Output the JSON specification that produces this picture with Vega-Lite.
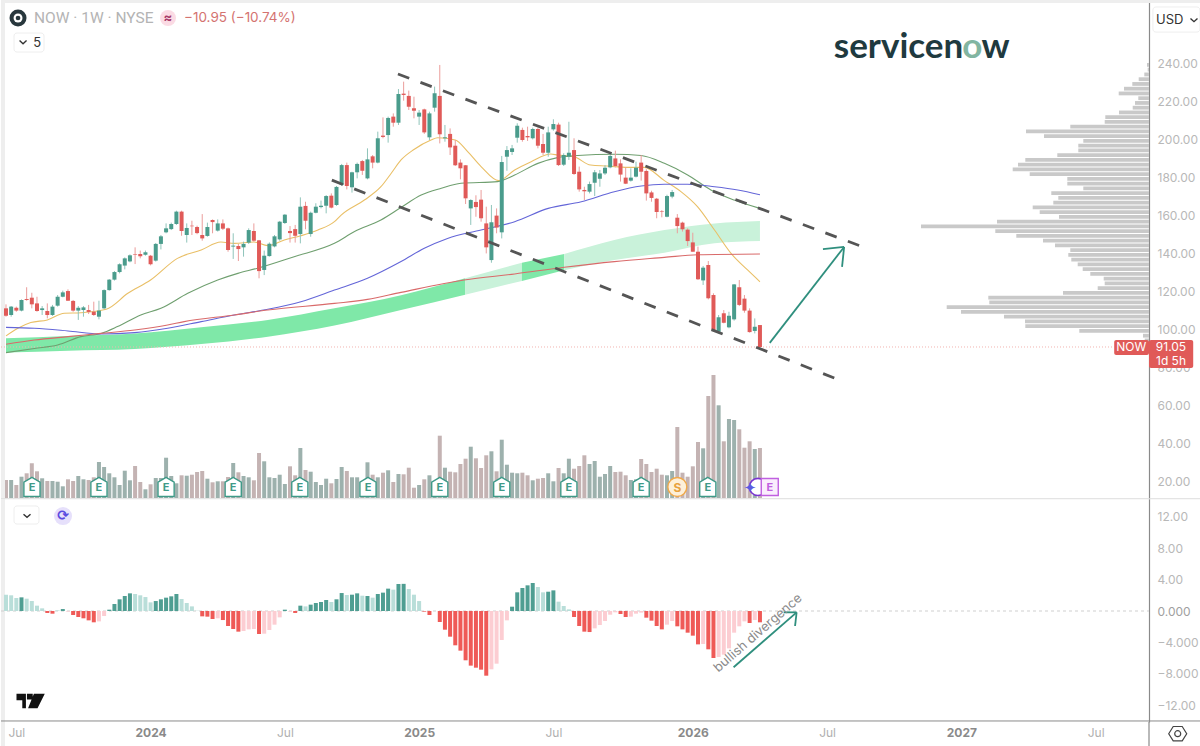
{
  "$schema": "https://vega.github.io/schema/vega-lite/v6.json",
  "padding": 0,
  "spacing": 0,
  "bounds": "flush",
  "background": "white",
  "config": {"view": {"stroke": null}, "font": "Inter"},
  "datasets": {
    "bars": [
      {"w":0,"o":111.4,"h":113.5,"l":107.0,"c":107.5,"v":18,"m":2.08,"g":0},
      {"w":1,"o":107.9,"h":112.6,"l":107.0,"c":112.3,"v":18,"m":2.0,"g":0},
      {"w":2,"o":111.7,"h":112.3,"l":109.6,"c":110.2,"v":13,"m":1.66,"g":0},
      {"w":3,"o":110.2,"h":116.1,"l":109.8,"c":115.8,"v":21.3,"m":1.74,"g":1},
      {"w":4,"o":116.3,"h":122.5,"l":115.4,"c":115.8,"v":24.7,"m":1.57,"g":0},
      {"w":5,"o":117.0,"h":119.6,"l":111.4,"c":113.5,"v":34.7,"m":1.27,"g":0},
      {"w":6,"o":114.0,"h":117.5,"l":109.6,"c":110.0,"v":26.7,"m":0.68,"g":0},
      {"w":7,"o":110.5,"h":112.6,"l":107.9,"c":111.4,"v":19.7,"m":0.34,"g":0},
      {"w":8,"o":110.0,"h":114.0,"l":106.1,"c":107.9,"v":17,"m":-0.25,"g":1},
      {"w":9,"o":107.9,"h":113.2,"l":107.4,"c":112.3,"v":17,"m":-0.34,"g":1},
      {"w":10,"o":112.8,"h":118.4,"l":112.3,"c":117.5,"v":16.3,"m":0.08,"g":0},
      {"w":11,"o":117.5,"h":120.7,"l":117.2,"c":119.8,"v":11.7,"m":0.25,"g":1},
      {"w":12,"o":120.5,"h":121.4,"l":115.3,"c":115.4,"v":18.7,"m":-0.08,"g":0},
      {"w":13,"o":115.3,"h":115.8,"l":109.6,"c":110.2,"v":17,"m":-0.51,"g":1},
      {"w":14,"o":110.2,"h":112.6,"l":105.3,"c":111.7,"v":22,"m":-0.76,"g":1},
      {"w":15,"o":110.5,"h":112.6,"l":107.0,"c":111.9,"v":18.7,"m":-0.93,"g":1},
      {"w":16,"o":110.5,"h":113.2,"l":108.4,"c":109.5,"v":18,"m":-1.19,"g":1},
      {"w":17,"o":109.6,"h":114.9,"l":107.4,"c":107.9,"v":20.7,"m":-1.44,"g":1},
      {"w":18,"o":107.0,"h":115.4,"l":105.6,"c":110.2,"v":36,"m":-1.32,"g":0},
      {"w":19,"o":111.4,"h":121.4,"l":110.9,"c":121.0,"v":31,"m":-0.64,"g":0},
      {"w":20,"o":121.0,"h":126.8,"l":120.7,"c":126.5,"v":24.7,"m":0.17,"g":1},
      {"w":21,"o":126.5,"h":131.0,"l":126.0,"c":130.5,"v":20.7,"m":0.89,"g":1},
      {"w":22,"o":130.5,"h":135.1,"l":129.8,"c":134.6,"v":13,"m":1.49,"g":1},
      {"w":23,"o":133.9,"h":138.2,"l":131.9,"c":137.7,"v":27.3,"m":1.91,"g":1},
      {"w":24,"o":136.1,"h":139.8,"l":135.6,"c":139.3,"v":17.7,"m":2.25,"g":1},
      {"w":25,"o":139.8,"h":143.5,"l":134.7,"c":139.5,"v":32,"m":2.17,"g":0},
      {"w":26,"o":140.0,"h":141.8,"l":137.7,"c":138.8,"v":16,"m":2.0,"g":0},
      {"w":27,"o":139.6,"h":141.8,"l":139.1,"c":140.9,"v":8.7,"m":1.78,"g":0},
      {"w":28,"o":139.1,"h":139.5,"l":134.0,"c":134.6,"v":13.7,"m":1.10,"g":0},
      {"w":29,"o":136.5,"h":145.8,"l":136.0,"c":145.3,"v":20,"m":1.27,"g":1},
      {"w":30,"o":145.3,"h":150.0,"l":142.4,"c":149.3,"v":20,"m":1.49,"g":1},
      {"w":31,"o":151.4,"h":156.1,"l":150.9,"c":153.5,"v":40.3,"m":1.70,"g":1},
      {"w":32,"o":153.1,"h":156.5,"l":152.6,"c":155.8,"v":22,"m":1.87,"g":1},
      {"w":33,"o":155.8,"h":162.8,"l":155.3,"c":162.3,"v":14.7,"m":2.17,"g":1},
      {"w":34,"o":162.3,"h":162.8,"l":149.6,"c":152.1,"v":22.7,"m":1.53,"g":0},
      {"w":35,"o":150.0,"h":156.1,"l":146.0,"c":153.7,"v":22.3,"m":1.02,"g":0},
      {"w":36,"o":154.9,"h":157.5,"l":150.0,"c":154.6,"v":23.3,"m":0.59,"g":0},
      {"w":37,"o":154.2,"h":154.9,"l":150.4,"c":151.0,"v":26,"m":0.04,"g":0},
      {"w":38,"o":150.0,"h":161.0,"l":147.0,"c":148.2,"v":27,"m":-0.68,"g":1},
      {"w":39,"o":149.5,"h":156.5,"l":149.1,"c":154.2,"v":19.3,"m":-0.72,"g":1},
      {"w":40,"o":157.9,"h":158.2,"l":150.9,"c":156.8,"v":15.7,"m":-1.02,"g":1},
      {"w":41,"o":152.3,"h":158.2,"l":151.8,"c":156.1,"v":16.7,"m":-0.93,"g":0},
      {"w":42,"o":156.1,"h":158.2,"l":152.6,"c":153.3,"v":16.7,"m":-1.15,"g":1},
      {"w":43,"o":153.5,"h":153.9,"l":141.2,"c":142.1,"v":21,"m":-1.91,"g":1},
      {"w":44,"o":143.9,"h":150.9,"l":137.4,"c":144.4,"v":35,"m":-2.29,"g":1},
      {"w":45,"o":144.2,"h":145.3,"l":136.3,"c":142.6,"v":25.7,"m":-2.63,"g":1},
      {"w":46,"o":143.5,"h":146.5,"l":138.6,"c":145.3,"v":22,"m":-2.55,"g":0},
      {"w":47,"o":146.0,"h":153.5,"l":145.3,"c":152.6,"v":20.7,"m":-2.34,"g":0},
      {"w":48,"o":152.1,"h":156.1,"l":146.5,"c":147.0,"v":17.7,"m":-2.29,"g":0},
      {"w":49,"o":147.2,"h":147.4,"l":127.2,"c":131.0,"v":45,"m":-2.93,"g":1},
      {"w":50,"o":131.6,"h":141.8,"l":128.9,"c":139.1,"v":36.7,"m":-2.89,"g":0},
      {"w":51,"o":138.9,"h":146.1,"l":138.6,"c":145.4,"v":20.7,"m":-2.42,"g":0},
      {"w":52,"o":144.0,"h":150.0,"l":143.5,"c":149.3,"v":20,"m":-1.74,"g":0},
      {"w":53,"o":147.7,"h":157.4,"l":147.0,"c":157.0,"v":23.3,"m":-0.81,"g":0},
      {"w":54,"o":156.3,"h":161.0,"l":155.8,"c":160.7,"v":14,"m":0.17,"g":1},
      {"w":55,"o":152.1,"h":154.7,"l":146.0,"c":151.0,"v":31.7,"m":-0.08,"g":0},
      {"w":56,"o":153.1,"h":155.3,"l":146.0,"c":149.6,"v":22.7,"m":-0.25,"g":1},
      {"w":57,"o":150.5,"h":169.8,"l":145.6,"c":164.9,"v":50,"m":0.68,"g":1},
      {"w":58,"o":165.3,"h":167.5,"l":153.0,"c":157.5,"v":28,"m":0.59,"g":0},
      {"w":59,"o":150.5,"h":162.3,"l":149.1,"c":161.7,"v":26.3,"m":0.81,"g":1},
      {"w":60,"o":161.7,"h":166.7,"l":161.4,"c":164.9,"v":16,"m":1.02,"g":1},
      {"w":61,"o":164.7,"h":168.1,"l":164.0,"c":165.4,"v":13,"m":1.15,"g":1},
      {"w":62,"o":165.4,"h":171.0,"l":161.4,"c":170.5,"v":19.3,"m":1.40,"g":1},
      {"w":63,"o":170.7,"h":171.9,"l":164.0,"c":164.4,"v":14.7,"m":1.15,"g":0},
      {"w":64,"o":165.8,"h":175.8,"l":165.3,"c":175.3,"v":19,"m":1.49,"g":1},
      {"w":65,"o":176.3,"h":187.4,"l":175.8,"c":186.8,"v":31,"m":2.29,"g":1},
      {"w":66,"o":186.8,"h":188.1,"l":174.0,"c":175.8,"v":27,"m":2.04,"g":0},
      {"w":67,"o":175.1,"h":183.3,"l":172.3,"c":183.0,"v":20.7,"m":2.08,"g":1},
      {"w":68,"o":183.0,"h":188.1,"l":179.8,"c":187.4,"v":20.7,"m":2.25,"g":1},
      {"w":69,"o":188.9,"h":189.5,"l":181.6,"c":183.8,"v":14.7,"m":1.95,"g":0},
      {"w":70,"o":179.8,"h":195.6,"l":179.3,"c":189.8,"v":35.7,"m":1.91,"g":1},
      {"w":71,"o":191.4,"h":192.1,"l":185.1,"c":188.1,"v":23.3,"m":1.70,"g":0},
      {"w":72,"o":188.1,"h":204.4,"l":187.7,"c":200.9,"v":20.7,"m":2.17,"g":1},
      {"w":73,"o":202.3,"h":211.9,"l":200.9,"c":201.6,"v":25.3,"m":2.34,"g":1},
      {"w":74,"o":202.6,"h":212.3,"l":198.6,"c":211.6,"v":27.7,"m":2.85,"g":1},
      {"w":75,"o":212.3,"h":214.0,"l":207.0,"c":209.1,"v":16,"m":2.72,"g":0},
      {"w":76,"o":209.1,"h":226.8,"l":207.9,"c":224.2,"v":24,"m":3.44,"g":1},
      {"w":77,"o":224.4,"h":230.7,"l":220.7,"c":223.7,"v":23.7,"m":3.46,"g":1},
      {"w":78,"o":223.2,"h":226.0,"l":215.8,"c":217.5,"v":30.3,"m":2.80,"g":0},
      {"w":79,"o":216.7,"h":222.8,"l":211.4,"c":215.4,"v":10.3,"m":2.08,"g":0},
      {"w":80,"o":212.3,"h":215.8,"l":207.9,"c":214.4,"v":13,"m":1.27,"g":0},
      {"w":81,"o":216.1,"h":216.5,"l":203.2,"c":204.0,"v":18.7,"m":-0.08,"g":1},
      {"w":82,"o":201.4,"h":214.9,"l":200.0,"c":214.0,"v":22.7,"m":-0.51,"g":1},
      {"w":83,"o":217.0,"h":228.1,"l":214.9,"c":224.6,"v":14.7,"m":0,"g":0},
      {"w":84,"o":223.2,"h":239.5,"l":198.2,"c":203.0,"v":62.3,"m":-1.40,"g":1},
      {"w":85,"o":200.9,"h":207.9,"l":199.1,"c":201.4,"v":30.3,"m":-2.38,"g":1},
      {"w":86,"o":203.2,"h":206.1,"l":192.1,"c":196.1,"v":26.3,"m":-3.27,"g":1},
      {"w":87,"o":197.0,"h":200.0,"l":186.3,"c":186.7,"v":25.7,"m":-4.37,"g":1},
      {"w":88,"o":188.1,"h":189.8,"l":179.3,"c":185.1,"v":34,"m":-5.05,"g":1},
      {"w":89,"o":186.7,"h":186.8,"l":166.3,"c":169.3,"v":39.3,"m":-6.28,"g":1},
      {"w":90,"o":164.0,"h":168.8,"l":155.3,"c":168.4,"v":51.3,"m":-6.96,"g":1},
      {"w":91,"o":167.4,"h":170.9,"l":159.6,"c":164.7,"v":39.7,"m":-7.22,"g":1},
      {"w":92,"o":168.6,"h":173.7,"l":157.0,"c":158.8,"v":30,"m":-7.47,"g":1},
      {"w":93,"o":156.1,"h":164.9,"l":140.3,"c":143.5,"v":42.7,"m":-8.24,"g":1},
      {"w":94,"o":136.8,"h":165.8,"l":135.4,"c":156.7,"v":46.7,"m":-7.43,"g":0},
      {"w":95,"o":160.2,"h":164.0,"l":150.9,"c":153.9,"v":26.7,"m":-6.71,"g":0},
      {"w":96,"o":151.4,"h":191.6,"l":148.2,"c":188.4,"v":58.3,"m":-3.69,"g":0},
      {"w":97,"o":191.2,"h":196.8,"l":183.8,"c":194.7,"v":33.3,"m":-1.19,"g":0},
      {"w":98,"o":193.7,"h":197.4,"l":192.1,"c":195.6,"v":25.3,"m":0.55,"g":1},
      {"w":99,"o":201.2,"h":208.8,"l":198.6,"c":207.5,"v":24.7,"m":2.38,"g":1},
      {"w":100,"o":205.3,"h":206.5,"l":199.1,"c":200.0,"v":25.3,"m":2.93,"g":1},
      {"w":101,"o":202.1,"h":207.0,"l":199.5,"c":201.4,"v":22.7,"m":3.27,"g":1},
      {"w":102,"o":200.9,"h":206.5,"l":200.3,"c":205.8,"v":17.7,"m":3.57,"g":1},
      {"w":103,"o":205.8,"h":206.5,"l":195.6,"c":197.0,"v":19.3,"m":3.06,"g":0},
      {"w":104,"o":197.9,"h":203.2,"l":192.1,"c":193.3,"v":20,"m":2.38,"g":0},
      {"w":105,"o":193.3,"h":207.0,"l":191.2,"c":204.0,"v":24.7,"m":2.46,"g":1},
      {"w":106,"o":205.6,"h":210.9,"l":204.9,"c":208.4,"v":16.7,"m":2.63,"g":1},
      {"w":107,"o":208.1,"h":209.1,"l":186.3,"c":186.8,"v":30,"m":1.19,"g":0},
      {"w":108,"o":187.0,"h":193.0,"l":186.3,"c":192.1,"v":24.7,"m":0.64,"g":0},
      {"w":109,"o":191.2,"h":209.6,"l":189.5,"c":193.3,"v":39.3,"m":0.21,"g":0},
      {"w":110,"o":194.7,"h":200.9,"l":181.6,"c":182.1,"v":29.3,"m":-0.76,"g":1},
      {"w":111,"o":183.3,"h":186.0,"l":172.8,"c":174.0,"v":32,"m":-1.91,"g":1},
      {"w":112,"o":173.7,"h":175.4,"l":168.4,"c":173.0,"v":42.7,"m":-2.63,"g":1},
      {"w":113,"o":172.8,"h":178.1,"l":171.9,"c":176.8,"v":34,"m":-2.68,"g":1},
      {"w":114,"o":177.5,"h":184.2,"l":170.5,"c":183.0,"v":37,"m":-2.21,"g":0},
      {"w":115,"o":179.6,"h":184.2,"l":175.4,"c":182.4,"v":21.3,"m":-1.78,"g":0},
      {"w":116,"o":182.4,"h":186.8,"l":181.6,"c":185.4,"v":24,"m":-1.27,"g":0},
      {"w":117,"o":185.6,"h":193.0,"l":185.1,"c":191.6,"v":32,"m":-0.47,"g":0},
      {"w":118,"o":190.3,"h":194.4,"l":185.6,"c":186.3,"v":26,"m":-0.17,"g":0},
      {"w":119,"o":187.7,"h":189.8,"l":178.1,"c":181.8,"v":26.3,"m":-0.38,"g":1},
      {"w":120,"o":180.2,"h":185.6,"l":176.8,"c":177.0,"v":22.7,"m":-0.76,"g":1},
      {"w":121,"o":178.6,"h":185.1,"l":178.1,"c":180.2,"v":18,"m":-0.72,"g":0},
      {"w":122,"o":180.7,"h":188.6,"l":180.3,"c":185.4,"v":18.7,"m":-0.34,"g":0},
      {"w":123,"o":188.1,"h":192.1,"l":178.6,"c":183.3,"v":39,"m":-0.21,"g":0},
      {"w":124,"o":183.7,"h":184.6,"l":168.1,"c":171.9,"v":34,"m":-0.85,"g":1},
      {"w":125,"o":172.4,"h":173.3,"l":167.5,"c":169.5,"v":26,"m":-1.23,"g":1},
      {"w":126,"o":169.1,"h":169.5,"l":158.8,"c":162.1,"v":29.3,"m":-1.91,"g":1},
      {"w":127,"o":162.4,"h":163.1,"l":159.3,"c":162.1,"v":23.3,"m":-2.34,"g":1},
      {"w":128,"o":159.6,"h":171.2,"l":159.3,"c":170.5,"v":22.7,"m":-1.74,"g":0},
      {"w":129,"o":170.2,"h":173.7,"l":169.3,"c":172.6,"v":27,"m":-1.27,"g":0},
      {"w":130,"o":159.1,"h":161.0,"l":150.9,"c":154.7,"v":71,"m":-1.95,"g":1},
      {"w":131,"o":156.5,"h":157.0,"l":151.8,"c":153.0,"v":25.3,"m":-2.34,"g":1},
      {"w":132,"o":152.8,"h":153.5,"l":144.2,"c":146.8,"v":21.3,"m":-2.76,"g":1},
      {"w":133,"o":146.1,"h":151.2,"l":141.2,"c":141.2,"v":31.7,"m":-3.14,"g":1},
      {"w":134,"o":141.2,"h":143.9,"l":126.3,"c":126.7,"v":56,"m":-4.25,"g":1},
      {"w":135,"o":126.1,"h":133.7,"l":123.7,"c":132.8,"v":49.7,"m":-4.20,"g":0},
      {"w":136,"o":134.2,"h":136.3,"l":116.1,"c":116.7,"v":102,"m":-4.88,"g":1},
      {"w":137,"o":118.4,"h":119.3,"l":99.6,"c":100.0,"v":123,"m":-5.99,"g":1},
      {"w":138,"o":99.1,"h":107.9,"l":98.2,"c":106.7,"v":92.7,"m":-5.86,"g":0},
      {"w":139,"o":108.8,"h":110.5,"l":103.5,"c":103.8,"v":56.7,"m":-5.56,"g":0},
      {"w":140,"o":101.4,"h":109.6,"l":100.9,"c":107.5,"v":79,"m":-4.76,"g":0},
      {"w":141,"o":105.6,"h":124.2,"l":104.9,"c":124.0,"v":78,"m":-2.76,"g":0},
      {"w":142,"o":122.5,"h":126.3,"l":112.6,"c":113.2,"v":68.7,"m":-1.95,"g":0},
      {"w":143,"o":116.5,"h":118.4,"l":109.1,"c":110.2,"v":50.3,"m":-1.32,"g":0},
      {"w":144,"o":110.2,"h":111.4,"l":98.6,"c":98.9,"v":56.7,"m":-1.53,"g":1},
      {"w":145,"o":99.5,"h":106.1,"l":98.2,"c":101.7,"v":49,"m":-1.15,"g":0},
      {"w":146,"o":102.6,"h":102.6,"l":90.2,"c":91.05,"v":50,"m":-1.44,"g":1}
    ],
    "profile": [
      {"p":239.5,"vp":2},{"p":237,"vp":1.3},{"p":234.5,"vp":4.7},{"p":232,"vp":10.3},{"p":229.5,"vp":16.7},
      {"p":227,"vp":25},{"p":224.5,"vp":30.3},{"p":222,"vp":10.7},{"p":219.5,"vp":14},{"p":217,"vp":16.3},
      {"p":214.5,"vp":30},{"p":212,"vp":43.7},{"p":209.5,"vp":44.3},{"p":207,"vp":78.7},{"p":204.5,"vp":123},
      {"p":202,"vp":105},{"p":199.5,"vp":65.7},{"p":197,"vp":70.7},{"p":194.5,"vp":70.7},{"p":192,"vp":91.7},
      {"p":189.5,"vp":123.7},{"p":187,"vp":131},{"p":184.5,"vp":136.3},{"p":182,"vp":119.3},{"p":179.5,"vp":81.7},
      {"p":177,"vp":81.7},{"p":174.5,"vp":65.7},{"p":172,"vp":97.7},{"p":169.5,"vp":90.7},{"p":167,"vp":95.7},
      {"p":164.5,"vp":116.3},{"p":162,"vp":109.3},{"p":159.5,"vp":90},{"p":157,"vp":152},{"p":154.5,"vp":228},
      {"p":152,"vp":153.7},{"p":149.5,"vp":132.7},{"p":147,"vp":106},{"p":144.5,"vp":94},{"p":142,"vp":78.7},
      {"p":139.5,"vp":80.7},{"p":137,"vp":77.7},{"p":134.5,"vp":71.3},{"p":132,"vp":66.3},{"p":129.5,"vp":58.7},
      {"p":127,"vp":45.3},{"p":124.5,"vp":44.3},{"p":122,"vp":51.3},{"p":119.5,"vp":86},{"p":117,"vp":160.7},
      {"p":114.5,"vp":159.7},{"p":112,"vp":202.3},{"p":109.5,"vp":188},{"p":107,"vp":145},{"p":104.5,"vp":124},
      {"p":102,"vp":123.7},{"p":99.5,"vp":69.7},{"p":97,"vp":6},{"p":94.5,"vp":4.3},{"p":92,"vp":4.3}
    ],
    "ribbon": [
      {"seg":"a","w":0,"hi":95.6,"lo":88.1},{"seg":"a","w":12,"hi":96.8,"lo":89.1},{"seg":"a","w":24.9,"hi":98.2,"lo":90},
      {"seg":"a","w":31.3,"hi":99.6,"lo":91.2},{"seg":"a","w":37.8,"hi":101.4,"lo":92.6},{"seg":"a","w":50.7,"hi":105.3,"lo":96.5},
      {"seg":"a","w":63.6,"hi":111.4,"lo":102.3},{"seg":"a","w":76.5,"hi":118.3,"lo":110.5},{"seg":"a","w":88.9,"hi":127.2,"lo":118.6},
      {"seg":"b","w":88.9,"hi":127.2,"lo":118.6},{"seg":"b","w":99.9,"hi":135.4,"lo":125.8},
      {"seg":"c","w":99.9,"hi":135.4,"lo":125.8},{"seg":"c","w":108.1,"hi":140,"lo":131.4},
      {"seg":"d","w":108.1,"hi":140,"lo":131.4},{"seg":"d","w":117.8,"hi":147.4,"lo":136.8},{"seg":"d","w":127.5,"hi":152.6,"lo":140.7},
      {"seg":"d","w":137.2,"hi":156.1,"lo":145.6},{"seg":"d","w":146,"hi":157.4,"lo":146.8}
    ],
    "averages": [
      {"ma":"ma20","w":0,"p":96.9},{"ma":"ma20","w":2.3,"p":100.9},{"ma":"ma20","w":4.8,"p":103.9},{"ma":"ma20","w":8,"p":105.3},
      {"ma":"ma20","w":11.3,"p":108.8},{"ma":"ma20","w":14.5,"p":109.1},{"ma":"ma20","w":19.4,"p":110.9},{"ma":"ma20","w":23.6,"p":119.3},
      {"ma":"ma20","w":28,"p":126.3},{"ma":"ma20","w":33.2,"p":137.7},{"ma":"ma20","w":37.8,"p":142.1},{"ma":"ma20","w":41.6,"p":146.3},
      {"ma":"ma20","w":44.2,"p":145.6},{"ma":"ma20","w":48,"p":146.3},{"ma":"ma20","w":50.7,"p":144.4},{"ma":"ma20","w":53.9,"p":147.4},
      {"ma":"ma20","w":57.1,"p":149.6},{"ma":"ma20","w":60.4,"p":152.6},{"ma":"ma20","w":63.6,"p":157},{"ma":"ma20","w":64.9,"p":160.5},
      {"ma":"ma20","w":69.4,"p":168.4},{"ma":"ma20","w":72.6,"p":175.4},{"ma":"ma20","w":74.6,"p":182.5},{"ma":"ma20","w":76.5,"p":189.5},
      {"ma":"ma20","w":79,"p":195},{"ma":"ma20","w":82.3,"p":200},{"ma":"ma20","w":83.6,"p":201.2},{"ma":"ma20","w":87,"p":200},
      {"ma":"ma20","w":89.4,"p":193.9},{"ma":"ma20","w":92,"p":186},{"ma":"ma20","w":95.4,"p":178.6},{"ma":"ma20","w":98.5,"p":184.2},
      {"ma":"ma20","w":101.7,"p":188.6},{"ma":"ma20","w":105.5,"p":192.6},{"ma":"ma20","w":106.8,"p":192.1},{"ma":"ma20","w":110,"p":191.2},
      {"ma":"ma20","w":113.2,"p":186.8},{"ma":"ma20","w":116.4,"p":186.3},{"ma":"ma20","w":120.4,"p":185.6},{"ma":"ma20","w":123.6,"p":185.6},
      {"ma":"ma20","w":127.5,"p":178.6},{"ma":"ma20","w":130.7,"p":172.8},{"ma":"ma20","w":133.9,"p":164.9},{"ma":"ma20","w":137.2,"p":152.6},
      {"ma":"ma20","w":140.4,"p":140.3},{"ma":"ma20","w":143.6,"p":131.6},{"ma":"ma20","w":146,"p":125.4},
      {"ma":"ma50","w":0,"p":88.1},{"ma":"ma50","w":5.5,"p":90.3},{"ma":"ma50","w":10,"p":92.1},{"ma":"ma50","w":14.5,"p":96.5},
      {"ma":"ma50","w":18.4,"p":98.2},{"ma":"ma50","w":21.6,"p":101.8},{"ma":"ma50","w":26.1,"p":107.9},{"ma":"ma50","w":30,"p":111.4},
      {"ma":"ma50","w":35.2,"p":119.3},{"ma":"ma50","w":41,"p":126.3},{"ma":"ma50","w":44.9,"p":129.8},{"ma":"ma50","w":48.7,"p":132.5},
      {"ma":"ma50","w":55.8,"p":138.6},{"ma":"ma50","w":63.6,"p":145.6},{"ma":"ma50","w":67.5,"p":151.8},{"ma":"ma50","w":72.6,"p":157.9},
      {"ma":"ma50","w":76.5,"p":164.5},{"ma":"ma50","w":80.4,"p":171},{"ma":"ma50","w":84.3,"p":174.6},{"ma":"ma50","w":88.1,"p":177.2},
      {"ma":"ma50","w":95.2,"p":178.1},{"ma":"ma50","w":98.5,"p":181.6},{"ma":"ma50","w":103,"p":187.7},{"ma":"ma50","w":106.8,"p":190.7},
      {"ma":"ma50","w":110.7,"p":191.8},{"ma":"ma50","w":117.8,"p":192.5},{"ma":"ma50","w":123,"p":191.8},{"ma":"ma50","w":127.5,"p":187.7},
      {"ma":"ma50","w":132,"p":181.6},{"ma":"ma50","w":136.5,"p":173.7},{"ma":"ma50","w":141,"p":168.4},{"ma":"ma50","w":146,"p":164},
      {"ma":"ma100","w":0,"p":101.4},{"ma":"ma100","w":5.5,"p":100.9},{"ma":"ma100","w":12,"p":99.5},{"ma":"ma100","w":18.4,"p":97.9},
      {"ma":"ma100","w":24.9,"p":98.6},{"ma":"ma100","w":31.3,"p":100.9},{"ma":"ma100","w":37.8,"p":104.4},{"ma":"ma100","w":44.2,"p":107.9},
      {"ma":"ma100","w":50.7,"p":110.9},{"ma":"ma100","w":57.1,"p":114.9},{"ma":"ma100","w":63.6,"p":121},{"ma":"ma100","w":70,"p":127.2},
      {"ma":"ma100","w":76.5,"p":136},{"ma":"ma100","w":81,"p":143},{"ma":"ma100","w":85.5,"p":148.2},{"ma":"ma100","w":92,"p":152.6},
      {"ma":"ma100","w":98.5,"p":157},{"ma":"ma100","w":105,"p":164},{"ma":"ma100","w":111.4,"p":167.5},{"ma":"ma100","w":117.8,"p":172.8},
      {"ma":"ma100","w":123,"p":175.8},{"ma":"ma100","w":127.5,"p":176.7},{"ma":"ma100","w":132,"p":176.7},{"ma":"ma100","w":137.2,"p":175.4},
      {"ma":"ma100","w":141.7,"p":173.7},{"ma":"ma100","w":146,"p":171.2},
      {"ma":"ma200","w":0,"p":92.5},{"ma":"ma200","w":5.5,"p":94.7},{"ma":"ma200","w":12,"p":96.5},{"ma":"ma200","w":18.4,"p":98.2},
      {"ma":"ma200","w":24.9,"p":100},{"ma":"ma200","w":31.3,"p":102.6},{"ma":"ma200","w":34.5,"p":104.4},{"ma":"ma200","w":44.2,"p":107.9},
      {"ma":"ma200","w":50.7,"p":110.5},{"ma":"ma200","w":63.6,"p":114},{"ma":"ma200","w":70,"p":116.1},{"ma":"ma200","w":76.5,"p":119.8},
      {"ma":"ma200","w":88.7,"p":126.3},{"ma":"ma200","w":98.5,"p":129.5},{"ma":"ma200","w":108.1,"p":133},{"ma":"ma200","w":117.8,"p":136},
      {"ma":"ma200","w":127.5,"p":138.2},{"ma":"ma200","w":133.9,"p":139.6},{"ma":"ma200","w":146,"p":140}
    ]
  },
  "vconcat": [
    {
      "width": 1148,
      "height": 499,
      "resolve": {"scale": {"x": "independent", "y": "independent"}},
      "layer": [
        {
          "data": {"name": "bars"},
          "mark": {"type": "bar", "width": 4},
          "encoding": {
            "x": {"field": "w", "type": "quantitative", "scale": {"domain": [-0.968, 221.34], "nice": false, "padding": 0}, "axis": null},
            "y": {"field": "v", "type": "quantitative", "scale": {"domain": [-1, 498], "nice": false}, "axis": null},
            "color": {"condition": {"test": "datum.c>=datum.o", "value": "#9db1ad"}, "value": "#c4b3b3"}
          }
        },
        {
          "data": {"name": "profile"},
          "mark": {"type": "rule", "strokeWidth": 3.8, "color": "#c9c9c9"},
          "encoding": {
            "x": {"field": "vp", "type": "quantitative", "scale": {"domain": [1148, 0], "nice": false}, "axis": null},
            "x2": {"datum": 0},
            "y": {"field": "p", "type": "quantitative", "scale": {"domain": [11.05, 273.68], "nice": false}, "axis": null}
          }
        },
        {
          "resolve": {"scale": {"color": "independent"}},
          "encoding": {
            "x": {"field": "w", "type": "quantitative", "scale": {"domain": [-0.968, 221.34], "nice": false, "padding": 0}, "axis": null},
            "y": {
              "field": "p", "type": "quantitative", "title": null,
              "scale": {"domain": [11.05, 273.68], "nice": false, "padding": 0},
              "axis": {
                "orient": "right", "values": [20,40,60,80,100,120,140,160,180,200,220,240], "format": ".2f",
                "grid": false, "ticks": false, "domainColor": "#8a8a8a", "domainWidth": 1.2,
                "labelColor": "#b8b8b8", "labelFontSize": 12, "labelPadding": 8, "minExtent": 52, "maxExtent": 52
              }
            }
          },
          "layer": [
            {
              "data": {"values": [
                {"w":-0.968,"w2":-0.19,"p":11.05,"p2":273.68},
                {"w":-0.968,"w2":231.4,"p":272.1,"p2":273.68}
              ]},
              "mark": {"type": "rect", "color": "#eeeeee"},
              "encoding": {"x2": {"field": "w2"}, "y2": {"field": "p2"}}
            },
            {
              "data": {"values": [{"w":-0.968,"w2":231.4,"p":11.2}]},
              "mark": {"type": "rule", "color": "#dedede", "strokeWidth": 1},
              "encoding": {"x2": {"field": "w2"}}
            },
            {
              "data": {"name": "ribbon"},
              "mark": {"type": "area", "interpolate": "monotone"},
              "encoding": {
                "y": {"field": "hi", "type": "quantitative", "title": null},
                "y2": {"field": "lo"},
                "color": {"field": "seg", "type": "nominal", "legend": null, "scale": {"domain": ["a","b","c","d"], "range": ["#7fe8a8","#c9f2da","#7fe8a8","#c9f2da"]}}
              }
            },
            {
              "data": {"values": [{"w":-0.968,"w2":214.6,"p":91.05}]},
              "mark": {"type": "rule", "color": "#f2b3b0", "strokeWidth": 1, "strokeDash": [1,2]},
              "encoding": {"x2": {"field": "w2"}}
            },
            {
              "data": {"name": "averages"},
              "mark": {"type": "line", "interpolate": "monotone", "strokeWidth": 1.1},
              "encoding": {
                "color": {"field": "ma", "type": "nominal", "legend": null, "scale": {"domain": ["ma20","ma50","ma100","ma200"], "range": ["#e9bf66","#6f9f6f","#6466d8","#d96a6a"]}}
              }
            },
            {
              "data": {"name": "bars"},
              "mark": {"type": "rule", "strokeWidth": 1},
              "encoding": {
                "y": {"field": "l", "type": "quantitative", "title": null},
                "y2": {"field": "h"},
                "color": {"condition": {"test": "datum.c>=datum.o", "value": "#8fc4ba"}, "value": "#eb9d9b"}
              }
            },
            {
              "data": {"name": "bars"},
              "mark": {"type": "rule", "strokeWidth": 4},
              "encoding": {
                "y": {"field": "o", "type": "quantitative", "title": null},
                "y2": {"field": "c"},
                "color": {"condition": {"test": "datum.c>=datum.o", "value": "#4a9c8c"}, "value": "#e05a58"}
              }
            },
            {
              "data": {"values": [
                {"line":"upper","w":75.9,"p":234.7},{"line":"upper","w":166,"p":143.7},
                {"line":"lower","w":63.1,"p":178.9},{"line":"lower","w":160.9,"p":74.2}
              ]},
              "mark": {"type": "line", "color": "#555555", "strokeWidth": 2.8, "strokeDash": [12,12]},
              "encoding": {"detail": {"field": "line"}}
            },
            {
              "data": {"values": [
                {"part":"shaft","w":147.9,"p":93.2},{"part":"shaft","w":162.3,"p":143.7},
                {"part":"barb1","w":158.2,"p":142.6},{"part":"barb1","w":162.3,"p":143.7},
                {"part":"barb2","w":161.9,"p":133.2},{"part":"barb2","w":162.3,"p":143.7}
              ]},
              "mark": {"type": "line", "color": "#2f8f7e", "strokeWidth": 1.8},
              "encoding": {"detail": {"field": "part"}}
            },
            {
              "data": {"values": [{"w":145.6,"p":17.4}]},
              "mark": {"type": "point", "shape": "circle", "filled": true, "fill": "#ffffff", "stroke": "#7a35d0", "strokeWidth": 1.6, "size": 290, "opacity": 1}
            },
            {
              "data": {"values": [{"w":144.1,"p":16.6,"t":"✦"}]},
              "mark": {"type": "text", "font": "DejaVu Sans", "fontSize": 15, "color": "#5b5be0", "baseline": "middle"},
              "encoding": {"text": {"field": "t"}}
            },
            {
              "data": {"values": [{"w":147.9,"p":17.4}]},
              "mark": {"type": "point", "shape": "square", "filled": true, "fill": "#faeefd", "stroke": "#c060e0", "strokeWidth": 1.4, "size": 289, "opacity": 1}
            },
            {
              "data": {"values": [
                {"w":5.03,"p":17.4},{"w":18,"p":17.4},{"w":31,"p":17.4},{"w":44,"p":17.4},{"w":56.9,"p":17.4},{"w":70.1,"p":17.4},
                {"w":84,"p":17.4},{"w":96,"p":17.4},{"w":109,"p":17.4},{"w":123,"p":17.4},{"w":135.9,"p":17.4}
              ]},
              "mark": {"type": "point", "shape": "M0,-1 L0.85,-0.5 L0.85,1 L-0.85,1 L-0.85,-0.5 Z", "filled": true, "fill": "#ffffff", "stroke": "#3f9a88", "strokeWidth": 1.4, "size": 361, "opacity": 1}
            },
            {
              "data": {"values": [
                {"w":5.03,"p":17,"t":"E"},{"w":18,"p":17,"t":"E"},{"w":31,"p":17,"t":"E"},{"w":44,"p":17,"t":"E"},{"w":56.9,"p":17,"t":"E"},{"w":70.1,"p":17,"t":"E"},
                {"w":84,"p":17,"t":"E"},{"w":96,"p":17,"t":"E"},{"w":109,"p":17,"t":"E"},{"w":123,"p":17,"t":"E"},{"w":135.9,"p":17,"t":"E"}
              ]},
              "mark": {"type": "text", "fontSize": 11, "fontWeight": "bold", "color": "#3f9a88", "baseline": "middle"},
              "encoding": {"text": {"field": "t"}}
            },
            {
              "data": {"values": [{"w":130,"p":17.4}]},
              "mark": {"type": "point", "shape": "circle", "filled": true, "fill": "#fdf0da", "stroke": "#efa84a", "strokeWidth": 1.4, "size": 361, "opacity": 1}
            },
            {
              "data": {"values": [{"w":130,"p":17,"t":"S"}]},
              "mark": {"type": "text", "fontSize": 12, "fontWeight": "bold", "color": "#e8a23f", "baseline": "middle"},
              "encoding": {"text": {"field": "t"}}
            },
            {
              "data": {"values": [{"w":147.9,"p":17,"t":"E"}]},
              "mark": {"type": "text", "fontSize": 11, "fontWeight": "bold", "color": "#c060e0", "baseline": "middle"},
              "encoding": {"text": {"field": "t"}}
            },
            {
              "data": {"values": [
                {"w":214.6,"w2":221.34,"p":86.8,"p2":94.7},
                {"w":221.34,"w2":229.9,"p":80,"p2":94.7}
              ]},
              "mark": {"type": "rect", "color": "#e05a58", "cornerRadius": 2},
              "encoding": {"x2": {"field": "w2"}, "y2": {"field": "p2"}}
            },
            {
              "data": {"values": [
                {"w":217.9,"p":91,"t":"NOW"},
                {"w":225.6,"p":91,"t":"91.05"},
                {"w":225.6,"p":83.7,"t":"1d 5h"}
              ]},
              "mark": {"type": "text", "fontSize": 12, "color": "#ffffff", "baseline": "middle"},
              "encoding": {"text": {"field": "t"}}
            },
            {
              "data": {"values": [
                {"w":222.1,"w2":231.2,"p":256.8,"p2":270},
                {"w":1.55,"w2":7.36,"p":246.3,"p2":256.3}
              ]},
              "mark": {"type": "rect", "fill": "#ffffff", "stroke": "#eeeeee", "cornerRadius": 3},
              "encoding": {"x2": {"field": "w2"}, "y2": {"field": "p2"}}
            },
            {
              "data": {"values": [{"w":230.05,"p":263.2},{"w":3.3,"p":251.6}]},
              "mark": {"type": "point", "shape": "M-1,-0.4 L0,0.5 L1,-0.4", "filled": false, "stroke": "#333333", "strokeWidth": 1.4, "size": 49, "opacity": 1}
            },
            {
              "data": {"values": [{"w":222.7,"p":263.2,"t":"USD"},{"w":5.3,"p":251.3,"t":"5"}]},
              "mark": {"type": "text", "fontSize": 13, "color": "#333333", "align": "left", "baseline": "middle"},
              "encoding": {"text": {"field": "t"}}
            },
            {
              "data": {"values": [{"w":2.33,"p":264.2}]},
              "mark": {"type": "point", "shape": "circle", "filled": true, "fill": "#28373d", "size": 289, "opacity": 1}
            },
            {
              "data": {"values": [{"w":2.33,"p":264.2}]},
              "mark": {"type": "point", "shape": "circle", "filled": true, "fill": "#ffffff", "size": 80, "opacity": 1}
            },
            {
              "data": {"values": [{"w":2.33,"p":264.2}]},
              "mark": {"type": "point", "shape": "circle", "filled": true, "fill": "#28373d", "size": 22, "opacity": 1}
            },
            {
              "data": {"values": [{"w":5.42,"p":264.2,"t":"NOW · 1W · NYSE"}]},
              "mark": {"type": "text", "font": "Roboto", "fontSize": 15.5, "color": "#b4b4b4", "align": "left", "baseline": "middle"},
              "encoding": {"text": {"field": "t"}}
            },
            {
              "data": {"values": [{"w":31.37,"p":264.2}]},
              "mark": {"type": "point", "shape": "circle", "filled": true, "fill": "#fbdbe4", "size": 256, "opacity": 1}
            },
            {
              "data": {"values": [{"w":31.37,"p":264.2,"t":"≈"}]},
              "mark": {"type": "text", "fontSize": 13, "fontWeight": "bold", "color": "#a83a6a", "baseline": "middle"},
              "encoding": {"text": {"field": "t"}}
            },
            {
              "data": {"values": [{"w":34.47,"p":264.2,"t":"−10.95 (−10.74%)"}]},
              "mark": {"type": "text", "fontSize": 13.5, "color": "#d47370", "align": "left", "baseline": "middle"},
              "encoding": {"text": {"field": "t"}}
            },
            {
              "data": {"values": [{"w":160.3,"p":249,"t":"servicen"},{"w":188.9,"p":249,"t":"w"}]},
              "mark": {"type": "text", "font": "Lato", "fontWeight": "bold", "fontSize": 35, "color": "#1f3a3f", "align": "left", "baseline": "middle"},
              "encoding": {"text": {"field": "t"}}
            },
            {
              "data": {"values": [{"w":185.2,"p":249,"t":"o"}]},
              "mark": {"type": "text", "font": "Lato", "fontWeight": "bold", "fontSize": 35, "color": "#82b5a1", "align": "left", "baseline": "middle"},
              "encoding": {"text": {"field": "t"}}
            }
          ]
        }
      ]
    },
    {
      "width": 1148,
      "height": 223,
      "encoding": {
        "x": {
          "field": "w", "type": "quantitative", "title": null,
          "scale": {"domain": [-0.968, 221.34], "nice": false, "padding": 0},
          "axis": {
            "values": [2,28,54,80,106,133,159,185,211],
            "labelExpr": "{'2':'Jul','28':'2024','54':'Jul','80':'2025','106':'Jul','133':'2026','159':'Jul','185':'2027','211':'Jul'}[datum.value]",
            "grid": false, "ticks": false, "domain": false, "labelFontSize": 12, "labelPadding": 5,
            "labelColor": {"condition": {"test": "indexof([28,80,133,185],datum.value)>=0", "value": "#8a8a8a"}, "value": "#b0b0b0"},
            "labelFontWeight": {"condition": {"test": "indexof([28,80,133,185],datum.value)>=0", "value": "bold"}, "value": "normal"},
            "minExtent": 24, "maxExtent": 24
          }
        },
        "y": {
          "field": "m", "type": "quantitative", "title": null,
          "scale": {"domain": [-14.14, 14.27], "nice": false},
          "axis": {
            "orient": "right", "values": [-12,-8,-4,0,4,8,12],
            "labelExpr": "datum.value==0?'0.000':datum.value==-12?'−12.00':datum.value<0?'−'+format(-datum.value,'.3f'):format(datum.value,'.2f')",
            "grid": false, "ticks": false, "domainColor": "#8a8a8a", "domainWidth": 1.2,
            "labelColor": {"condition": {"test": "datum.value==0", "value": "#a0a0a0"}, "value": "#b8b8b8"},
            "labelFontSize": 12, "labelPadding": 8, "minExtent": 52, "maxExtent": 52
          }
        }
      },
      "layer": [
        {
          "data": {"values": [{"w":-0.968,"w2":-0.19,"m":14.27,"m2":-17.2}]},
          "mark": {"type": "rect", "color": "#eeeeee"},
          "encoding": {"x2": {"field": "w2"}, "y2": {"field": "m2"}}
        },
        {
          "data": {"values": [{"w":-0.968,"w2":221.34,"m":0}]},
          "mark": {"type": "rule", "color": "#cfcfcf", "strokeWidth": 1, "strokeDash": [3,3]},
          "encoding": {"x2": {"field": "w2"}}
        },
        {
          "data": {"name": "bars"},
          "mark": {"type": "bar", "width": 4},
          "encoding": {
            "color": {"condition": [
              {"test": "datum.m>=0&&datum.g==1", "value": "#4f9e92"},
              {"test": "datum.m>=0", "value": "#b9ded9"},
              {"test": "datum.g==1", "value": "#ef5a57"}
            ], "value": "#fccdd2"}
          }
        },
        {
          "data": {"values": [{"w":-0.968,"w2":231.4,"m":-14.01}]},
          "mark": {"type": "rule", "color": "#8a8a8a", "strokeWidth": 1},
          "encoding": {"x2": {"field": "w2"}}
        },
        {
          "data": {"values": [{"w":221.34,"m":-14.14,"m2":-17.2}]},
          "mark": {"type": "rule", "color": "#8a8a8a", "strokeWidth": 1.2},
          "encoding": {"y2": {"field": "m2"}}
        },
        {
          "data": {"values": [
            {"part":"shaft","w":140.9,"m":-7.17},{"part":"shaft","w":153.1,"m":-0.17},
            {"part":"barb1","w":150.6,"m":-0.17},{"part":"barb1","w":153.1,"m":-0.17},
            {"part":"barb2","w":152.8,"m":-1.91},{"part":"barb2","w":153.1,"m":-0.17}
          ]},
          "mark": {"type": "line", "color": "#2f8f7e", "strokeWidth": 1.8},
          "encoding": {"detail": {"field": "part"}}
        },
        {
          "data": {"values": [{"w":145.6,"m":-2.8,"t":"bullish divergence"}]},
          "mark": {"type": "text", "fontSize": 13, "angle": 319, "color": "#8a8a8a", "baseline": "middle"},
          "encoding": {"text": {"field": "t"}}
        },
        {
          "data": {"values": [{"w":1.55,"w2":6.39,"m":11.08,"m2":13.38}]},
          "mark": {"type": "rect", "fill": "#ffffff", "stroke": "#eeeeee", "cornerRadius": 3},
          "encoding": {"x2": {"field": "w2"}, "y2": {"field": "m2"}}
        },
        {
          "data": {"values": [{"w":4.07,"m":12.15}]},
          "mark": {"type": "point", "shape": "M-1,-0.4 L0,0.5 L1,-0.4", "filled": false, "stroke": "#333333", "strokeWidth": 1.4, "size": 49, "opacity": 1}
        },
        {
          "data": {"values": [{"w":11.04,"m":12.1}]},
          "mark": {"type": "point", "shape": "circle", "filled": true, "fill": "#e6e0fb", "size": 324, "opacity": 1}
        },
        {
          "data": {"values": [{"w":11.04,"m":12.1,"t":"⟳"}]},
          "mark": {"type": "text", "font": "DejaVu Sans", "fontSize": 14, "fontWeight": "bold", "color": "#5b4be0", "baseline": "middle"},
          "encoding": {"text": {"field": "t"}}
        },
        {
          "data": {"values": [{"w":4.84,"m":-11.46}]},
          "mark": {"type": "point", "shape": "M-1,-0.5 L-0.35,-0.5 L-0.35,0.5 L-0.6,0.5 L-0.6,-0.05 L-1,-0.05 Z M0.2,-0.5 L0.95,-0.5 L0.45,0.5 L-0.2,0.5 Z M-0.28,-0.5 L0.12,-0.5 L0.12,-0.1 L-0.28,-0.1 Z", "filled": true, "fill": "#111111", "size": 841, "opacity": 1}
        },
        {
          "data": {"values": [{"w":226.9,"m":-15.63}]},
          "mark": {"type": "point", "shape": "M-1,0 L-0.5,-0.8 L0.5,-0.8 L1,0 L0.5,0.8 L-0.5,0.8 Z", "filled": false, "stroke": "#444444", "strokeWidth": 1.2, "size": 324, "opacity": 1}
        },
        {
          "data": {"values": [{"w":226.9,"m":-15.63}]},
          "mark": {"type": "point", "shape": "circle", "filled": false, "stroke": "#444444", "strokeWidth": 1.2, "size": 36, "opacity": 1}
        }
      ]
    }
  ]
}
